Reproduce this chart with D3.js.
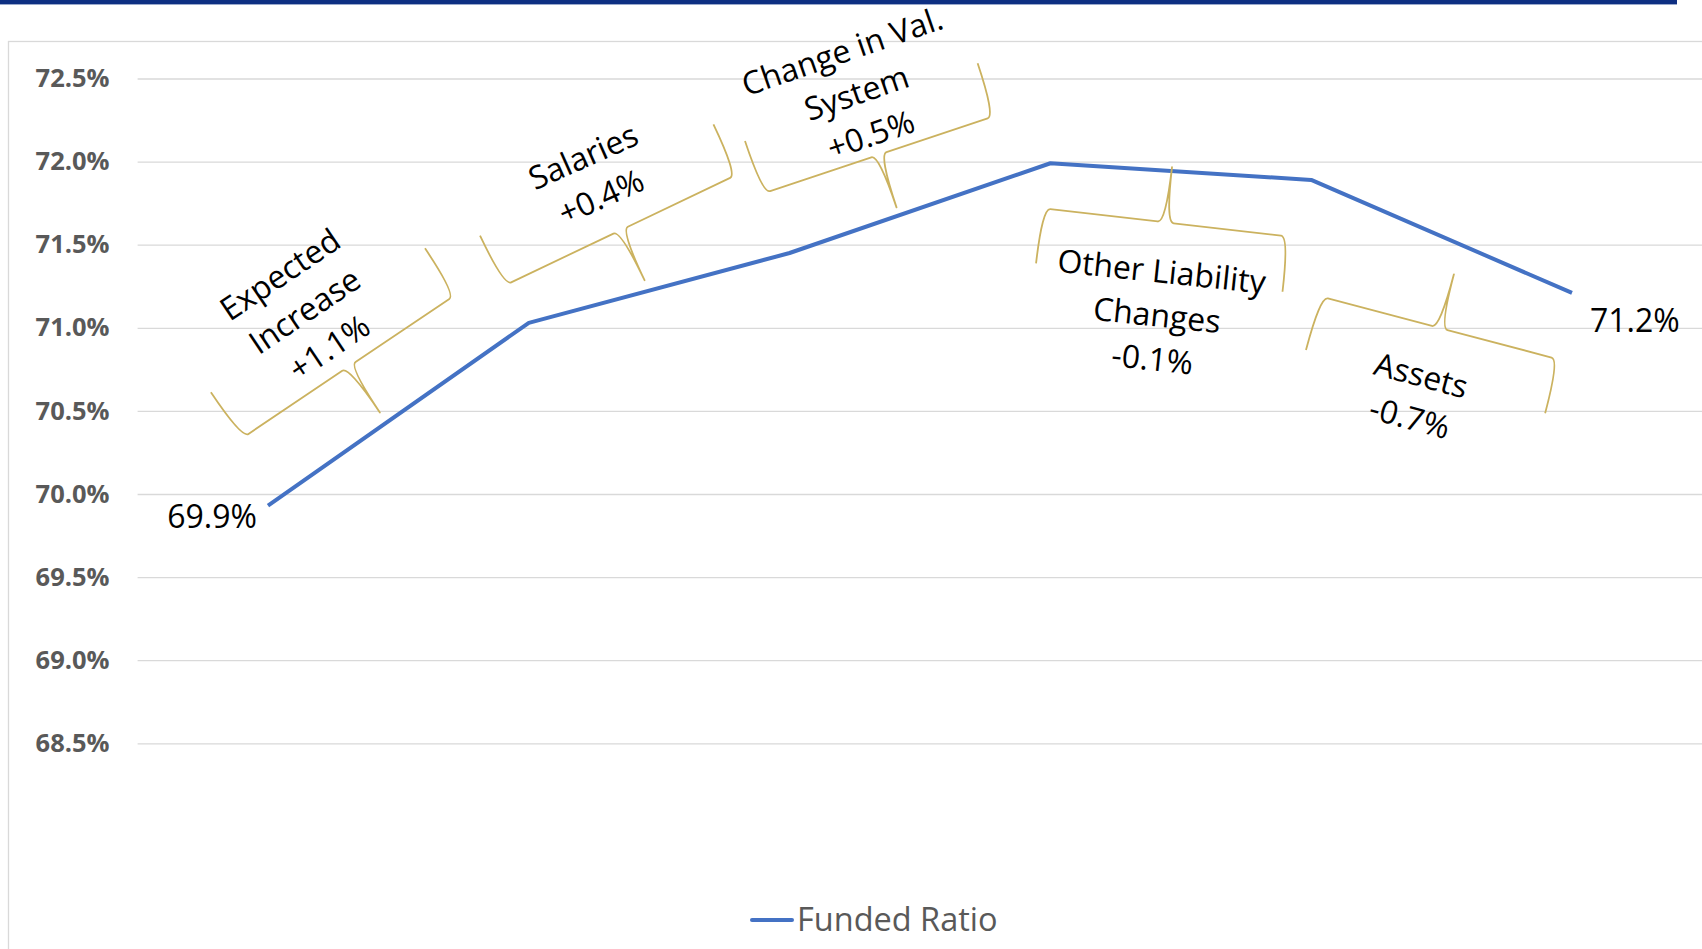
<!DOCTYPE html>
<html>
<head>
<meta charset="utf-8">
<script src="https://cdn.jsdelivr.net/npm/d3@7"></script>
<style>
  html, body { margin: 0; padding: 0; background: #ffffff; }
  svg { display: block; }
</style>
</head>
<body>
<div id="chart"></div>
<script>
// ---------- data ----------
const categories = ["Start", "Expected Increase", "Salaries", "Change in Val. System", "Other Liability Changes", "Assets"];
const fundedRatio = [69.93, 71.03, 71.45, 71.99, 71.89, 71.21];
const pointLabels = ["69.9%", "", "", "", "", "71.2%"];
const yTicks = [68.5, 69.0, 69.5, 70.0, 70.5, 71.0, 71.5, 72.0, 72.5];
const seriesName = "Funded Ratio";

// annotation texts (one entry per step)
const annotationText = [
  ["Expected", "Increase", "+1.1%"],
  ["Salaries", "+0.4%"],
  ["Change in Val.", "System", "+0.5%"],
  ["Other Liability", "Changes", "-0.1%"],
  ["Assets", "-0.7%"]
];
// annotation anchors in data space: [category index, value]
const braceFrom = [[-0.219, 70.612], [0.813, 71.554], [1.829, 72.124], [2.945, 71.388], [3.980, 70.866]];
const braceTo   = [[0.602, 71.478], [1.708, 72.224], [2.721, 72.592], [3.890, 71.217], [4.897, 70.486]];
const braceTip  = ["below", "below", "below", "above", "above"];
const textAt    = [[0.138, 71.107], [1.241, 71.916], [2.255, 72.419], [3.409, 71.083], [4.401, 70.593]];
const textAngle = [-34, -24, -19, 6, 15];

// ---------- layout ----------
const W = 1702, H = 949;
const plot = { left: 137.6, right: 1702.4, top: 78.5, bottom: 743.3 };

const svg = d3.select("#chart").append("svg")
  .attr("width", W).attr("height", H);

// top banner rule
svg.append("rect").attr("x", 0).attr("y", 0).attr("width", 1677).attr("height", 4)
  .attr("fill", "#0e2f82");
svg.append("rect").attr("x", 0).attr("y", 4).attr("width", 1677).attr("height", 1)
  .attr("fill", "#9aa9cc");

// chart area border
svg.append("rect").attr("x", 8.5).attr("y", 41.5).attr("width", W).attr("height", H)
  .attr("fill", "none").attr("stroke", "#d9d9d9").attr("stroke-width", 1.3);

// scales
const xPoint = d3.scalePoint().domain(categories).range([plot.left, plot.right]).padding(0.5);
const xIdx = d3.scaleLinear().domain([0, categories.length - 1])
  .range([xPoint(categories[0]), xPoint(categories[categories.length - 1])]);
const y = d3.scaleLinear().domain([68.5, 72.5]).range([plot.bottom, plot.top]);

// gridlines + y axis labels
const yAxis = d3.axisLeft(y).tickValues(yTicks)
  .tickSize(-(plot.right - plot.left))
  .tickPadding(28)
  .tickFormat(d => d.toFixed(1) + "%");
const gy = svg.append("g").attr("transform", `translate(${plot.left},0)`).call(yAxis);
gy.select(".domain").remove();
gy.selectAll(".tick line").attr("stroke", "#d9d9d9").attr("stroke-width", 1.3);
gy.selectAll(".tick text")
  .attr("fill", "#595959")
  .style("font-family", "'Open Sans', sans-serif")
  .style("font-weight", "700")
  .style("font-size", "25.5px");

// line
const line = d3.line()
  .x((d, i) => xPoint(categories[i]))
  .y(d => y(d));
svg.append("path").datum(fundedRatio)
  .attr("d", line)
  .attr("fill", "none")
  .attr("stroke", "#4472c4")
  .attr("stroke-width", 4)
  .attr("stroke-linejoin", "round");

// point labels
const lblOffset = [[-11, 22, "end"], null, null, null, null, [18, 39, "start"]];
fundedRatio.forEach((v, i) => {
  if (!pointLabels[i]) return;
  const o = lblOffset[i];
  svg.append("text")
    .attr("x", xPoint(categories[i]) + o[0])
    .attr("y", y(v) + o[1])
    .attr("text-anchor", o[2])
    .attr("fill", "#000")
    .style("font-family", "'Open Sans', sans-serif")
    .style("font-size", "32px")
    .text(pointLabels[i]);
});

// braces
const D = 111, r = 8;
braceFrom.forEach((f, k) => {
  const p0 = [xIdx(f[0]), y(f[1])];
  const p1 = [xIdx(braceTo[k][0]), y(braceTo[k][1])];
  const dx = p1[0] - p0[0], dy = p1[1] - p0[1];
  const L = Math.hypot(dx, dy);
  const a = [dx / L, dy / L];
  const n = braceTip[k] === "below" ? [-a[1], a[0]] : [a[1], -a[0]];
  const P = (u, v) => [p0[0] + a[0] * u + n[0] * v, p0[1] + a[1] * u + n[1] * v];
  const path = d3.path();
  const m = P(0, 0); path.moveTo(m[0], m[1]);
  let c = P(0, D / 2), e = P(r, D / 2); path.quadraticCurveTo(c[0], c[1], e[0], e[1]);
  e = P(L / 2 - r, D / 2); path.lineTo(e[0], e[1]);
  c = P(L / 2, D / 2); e = P(L / 2, D); path.quadraticCurveTo(c[0], c[1], e[0], e[1]);
  c = P(L / 2, D / 2); e = P(L / 2 + r, D / 2); path.quadraticCurveTo(c[0], c[1], e[0], e[1]);
  e = P(L - r, D / 2); path.lineTo(e[0], e[1]);
  c = P(L, D / 2); e = P(L, 0); path.quadraticCurveTo(c[0], c[1], e[0], e[1]);
  svg.append("path").attr("d", path.toString())
    .attr("fill", "none").attr("stroke", "#cbb25f").attr("stroke-width", 1.8)
    .attr("stroke-linejoin", "round");
});

// annotation texts
const lh = 44;
annotationText.forEach((lines, k) => {
  const cx = xIdx(textAt[k][0]), cy = y(textAt[k][1]);
  const t = svg.append("text")
    .attr("transform", `translate(${cx},${cy}) rotate(${textAngle[k]})`)
    .attr("text-anchor", "middle")
    .attr("fill", "#000")
    .style("font-family", "'Open Sans', sans-serif")
    .style("font-size", "32px");
  lines.forEach((s, i) => {
    t.append("tspan").attr("x", 0)
      .attr("y", (i - (lines.length - 1) / 2) * lh)
      .attr("dominant-baseline", "central")
      .text(s);
  });
});

// legend
const lg = svg.append("g");
lg.append("line").attr("x1", 752).attr("x2", 792).attr("y1", 920).attr("y2", 920)
  .attr("stroke", "#4472c4").attr("stroke-width", 4).attr("stroke-linecap", "round");
lg.append("text").attr("x", 797).attr("y", 931)
  .attr("fill", "#595959")
  .style("font-family", "'Open Sans', sans-serif")
  .style("font-size", "32.5px")
  .text(seriesName);
</script>
</body>
</html>
